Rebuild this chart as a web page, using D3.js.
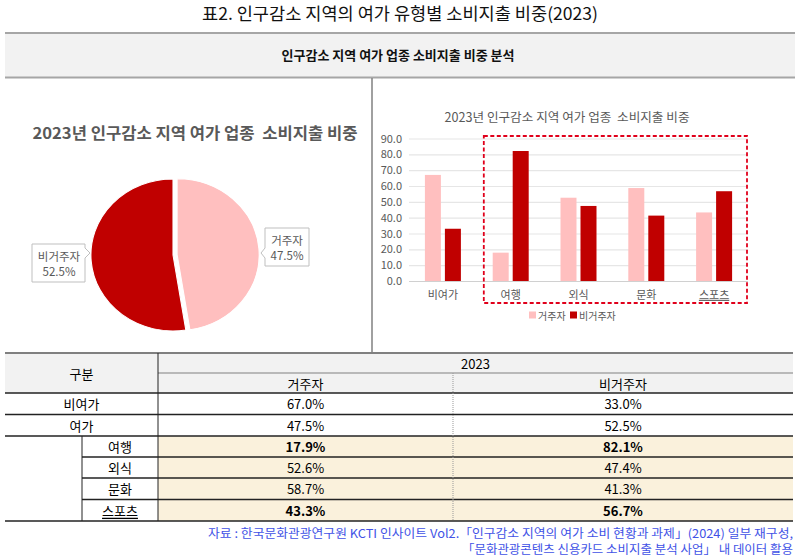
<!DOCTYPE html>
<html><head><meta charset="utf-8">
<script src="https://cdn.jsdelivr.net/npm/d3@7"></script>
<style>
html,body{margin:0;padding:0;background:#fff;}
svg{display:block;font-family:"Noto Sans CJK KR","Noto Sans",sans-serif;}
text{white-space:pre;}
</style></head>
<body><svg id="c" width="800" height="557"></svg>
<script>
const pageTitle = "표2. 인구감소 지역의 여가 유형별 소비지출 비중(2023)";
const bandTitle = "인구감소 지역 여가 업종 소비지출 비중 분석";
const chartTitle = "2023년 인구감소 지역 여가 업종  소비지출 비중";
const seriesNames = ["거주자", "비거주자"];
const pieValues = [47.5, 52.5];
const categories = ["비여가", "여행", "외식", "문화", "스포츠"];
const residentValues = [67.0, 17.9, 52.6, 58.7, 43.3];
const nonResidentValues = [33.0, 82.1, 47.4, 41.3, 56.7];
const yTicks = [0, 10, 20, 30, 40, 50, 60, 70, 80, 90];
const tableYear = "2023";
const tableRowLabels = ["비여가", "여가", "여행", "외식", "문화", "스포츠"];
const tableResident = [67.0, 47.5, 17.9, 52.6, 58.7, 43.3];
const tableNonResident = [33.0, 52.5, 82.1, 47.4, 41.3, 56.7];
const footLines = ["자료 : 한국문화관광연구원 KCTI 인사이트 Vol2.「인구감소 지역의 여가 소비 현황과 과제」(2024) 일부 재구성,",
                   "「문화관광콘텐츠 신용카드 소비지출 분석 사업」 내 데이터 활용"];

const colors = ["#ffbfbf", "#c00000"];
const svg = d3.select("#c");

// Page title
svg.append("text").attr("x", 400).attr("y", 12).attr("text-anchor", "middle")
  .attr("dominant-baseline", "central").attr("font-size", 17).attr("fill", "#111")
  .attr("textLength", 396).attr("lengthAdjust", "spacingAndGlyphs").text(pageTitle);

// Header band
svg.append("rect").attr("x", 5).attr("y", 33).attr("width", 790).attr("height", 44).attr("fill", "#f2f2f2");
svg.append("line").attr("x1", 5).attr("x2", 795).attr("y1", 33).attr("y2", 33).attr("stroke", "#a6a6a6").attr("stroke-width", 2);
svg.append("line").attr("x1", 5).attr("x2", 795).attr("y1", 77.5).attr("y2", 77.5).attr("stroke", "#a6a6a6").attr("stroke-width", 2);
svg.append("text").attr("x", 398).attr("y", 54).attr("text-anchor", "middle").attr("dominant-baseline", "central")
  .attr("font-size", 13).attr("font-weight", "bold").attr("fill", "#111")
  .attr("textLength", 233).attr("lengthAdjust", "spacingAndGlyphs").text(bandTitle);

// vertical separator
svg.append("line").attr("x1", 372).attr("x2", 372).attr("y1", 78).attr("y2", 352).attr("stroke", "#808080").attr("stroke-width", 1.5);

// ---------- Pie ----------
svg.append("text").attr("x", 195).attr("y", 132).attr("text-anchor", "middle").attr("dominant-baseline", "central")
  .attr("font-size", 16).attr("font-weight", "bold").attr("fill", "#595959")
  .attr("textLength", 325).attr("lengthAdjust", "spacingAndGlyphs").text(chartTitle);

const pie = d3.pie().sort(null)(pieValues);
const R = 76;
const arc = d3.arc().innerRadius(0).outerRadius(R);
const pg = svg.append("g").attr("transform", "translate(173,255) scale(1.08,1)");
pg.selectAll("path").data(pie).join("path")
  .attr("d", arc)
  .attr("fill", (d, i) => colors[i])
  .attr("stroke", "#fff").attr("stroke-width", 1)
  .attr("transform", (d, i) => {
    if (i !== 0) return null;
    const a = (d.startAngle + d.endAngle) / 2, off = 3.8;
    return `translate(${off * Math.sin(a)},${-off * Math.cos(a)})`;
  });

// callouts
const callouts = [
  {i: 1, path: "M32,244 H85 V248 L90,253 L85,258 V282 H32 Z", cx: 59, y1: 256, y2: 271},
  {i: 0, path: "M265,228 H309 V266 H265 V258 L261,253 L265,248 Z", cx: 287, y1: 240, y2: 255}
];
callouts.forEach(c => {
  svg.append("path").attr("d", c.path).attr("fill", "#fff").attr("stroke", "#bfbfbf").attr("stroke-width", 1);
  svg.append("text").attr("x", c.cx).attr("y", c.y1).attr("text-anchor", "middle").attr("dominant-baseline", "central")
    .attr("font-size", 11.5).attr("fill", "#595959").text(seriesNames[c.i]);
  svg.append("text").attr("x", c.cx).attr("y", c.y2).attr("text-anchor", "middle").attr("dominant-baseline", "central")
    .attr("font-size", 11.5).attr("fill", "#595959").text(d3.format(".1f")(pieValues[c.i]) + "%");
});

// ---------- Bar chart ----------
svg.append("text").attr("x", 567).attr("y", 116).attr("text-anchor", "middle").attr("dominant-baseline", "central")
  .attr("font-size", 12.5).attr("fill", "#595959")
  .attr("textLength", 245).attr("lengthAdjust", "spacingAndGlyphs").text(chartTitle);

const x = d3.scaleBand().domain(categories).range([409, 748]);
const xs = d3.scaleBand().domain(seriesNames).range([0, x.bandwidth()]).paddingInner(0.2).paddingOuter(0.795);
const y = d3.scaleLinear().domain([0, 90]).range([281, 138.5]);

const grid = svg.append("g").attr("transform", "translate(409,0)")
  .call(d3.axisLeft(y).tickValues(yTicks).tickSize(-339).tickFormat(""));
grid.select(".domain").remove();
grid.selectAll("line").attr("stroke", (d) => d === 0 ? "#d0d0d0" : "#e6e6e6").attr("stroke-width", 1.2);

const ya = svg.append("g").attr("transform", "translate(409,0)")
  .call(d3.axisLeft(y).tickValues(yTicks).tickSize(0).tickPadding(7).tickFormat(d3.format(".1f")));
ya.select(".domain").remove();
ya.selectAll("text").attr("font-size", 11).attr("fill", "#595959").attr("font-family", "'Noto Sans CJK KR',sans-serif");

const series = [residentValues, nonResidentValues];
series.forEach((vals, si) => {
  svg.append("g").selectAll("rect").data(categories).join("rect")
    .attr("x", (c) => x(c) + xs(seriesNames[si]))
    .attr("width", xs.bandwidth())
    .attr("y", (c, i) => y(vals[i]))
    .attr("height", (c, i) => y(0) - y(vals[i]))
    .attr("fill", colors[si]);
});

const xa = svg.append("g").attr("transform", "translate(0,281)")
  .call(d3.axisBottom(x).tickSize(0).tickPadding(10));
xa.select(".domain").remove();
xa.selectAll("text").attr("font-size", 11).attr("fill", "#595959").attr("font-family", "'Noto Sans CJK KR',sans-serif")
  .attr("text-decoration", (d) => d === "스포츠" ? "underline" : null);

// dashed highlight box
const bx = x(categories[1]) + 7;
svg.append("rect").attr("x", bx).attr("y", 136).attr("width", 747 - bx).attr("height", 167)
  .attr("fill", "none").attr("stroke", "#e0001b").attr("stroke-width", 1.8).attr("stroke-dasharray", "4,2.5");

// legend
const lg = svg.append("g").attr("transform", "translate(529,315)");
seriesNames.forEach((n, i) => {
  const gx = i === 0 ? 0 : 41;
  lg.append("rect").attr("x", gx).attr("y", -3.5).attr("width", 7).attr("height", 7).attr("fill", colors[i]);
  lg.append("text").attr("x", gx + 9).attr("y", 0).attr("dominant-baseline", "central")
    .attr("font-size", 10).attr("fill", "#595959").text(n);
});

// ---------- Table ----------
const tL = 5, tR = 793, c1 = 82, c2 = 158, c3 = 453;
const rowTop = [393, 414.5, 436, 457, 478, 499.5];
const rowBot = 521;
const tg = svg.append("g");
tg.append("rect").attr("x", tL).attr("y", 353).attr("width", tR - tL).attr("height", 40).attr("fill", "#f2f2f2");
tg.append("rect").attr("x", c2).attr("y", 436).attr("width", tR - c2).attr("height", rowBot - 436).attr("fill", "#faf1dc");
// lines
tg.append("line").attr("x1", tL).attr("x2", tR).attr("y1", 353).attr("y2", 353).attr("stroke", "#808080").attr("stroke-width", 2);
tg.append("line").attr("x1", c2).attr("x2", tR).attr("y1", 373).attr("y2", 373).attr("stroke", "#a6a6a6").attr("stroke-width", 1.5);
const fullLines = [393, 414.5, 436, rowBot];
fullLines.forEach(yy => tg.append("line").attr("x1", tL).attr("x2", tR).attr("y1", yy).attr("y2", yy).attr("stroke", "#222").attr("stroke-width", 1.3));
[457, 478, 499.5].forEach(yy => tg.append("line").attr("x1", c1).attr("x2", tR).attr("y1", yy).attr("y2", yy).attr("stroke", "#222").attr("stroke-width", 1.3));
tg.append("line").attr("x1", c2).attr("x2", c2).attr("y1", 353).attr("y2", rowBot).attr("stroke", "#222").attr("stroke-width", 1);
tg.append("line").attr("x1", c1).attr("x2", c1).attr("y1", 436).attr("y2", rowBot).attr("stroke", "#222").attr("stroke-width", 1);
tg.append("line").attr("x1", c3).attr("x2", c3).attr("y1", 373).attr("y2", rowBot).attr("stroke", "#999").attr("stroke-width", 1).attr("stroke-dasharray", "1,1");

function cell(tx, ty, s, bold, ul) {
  tg.append("text").attr("x", tx).attr("y", ty).attr("text-anchor", "middle").attr("dominant-baseline", "central")
    .attr("font-size", 13).attr("fill", "#000").attr("font-weight", bold ? "bold" : "normal")
    .attr("text-decoration", ul ? "underline" : null).text(s);
}
cell((tL + c2) / 2, 373, "구분");
cell((c2 + tR) / 2, 363, tableYear);
cell((c2 + c3) / 2, 383, seriesNames[0]);
cell((c3 + tR) / 2, 383, seriesNames[1]);
const pct = d3.format(".1f");
tableRowLabels.forEach((lab, i) => {
  const top = rowTop[i], bot = i < rowTop.length - 1 ? rowTop[i + 1] : rowBot;
  const cy = (top + bot) / 2;
  const sub = i >= 2;
  const bold = lab === "여행" || lab === "스포츠";
  cell(sub ? (c1 + c2) / 2 : (tL + c2) / 2, cy, lab, false, lab === "스포츠");
  cell((c2 + c3) / 2, cy, pct(tableResident[i]) + "%", bold);
  cell((c3 + tR) / 2, cy, pct(tableNonResident[i]) + "%", bold);
});

// footnote
svg.append("text").attr("x", 793).attr("y", 532).attr("text-anchor", "end").attr("dominant-baseline", "central")
  .attr("font-size", 12).attr("fill", "#4152e6").attr("textLength", 585).attr("lengthAdjust", "spacingAndGlyphs").text(footLines[0]);
svg.append("text").attr("x", 793).attr("y", 548).attr("text-anchor", "end").attr("dominant-baseline", "central")
  .attr("font-size", 12).attr("fill", "#4152e6").attr("textLength", 331).attr("lengthAdjust", "spacingAndGlyphs").text(footLines[1]);
</script></body></html>
